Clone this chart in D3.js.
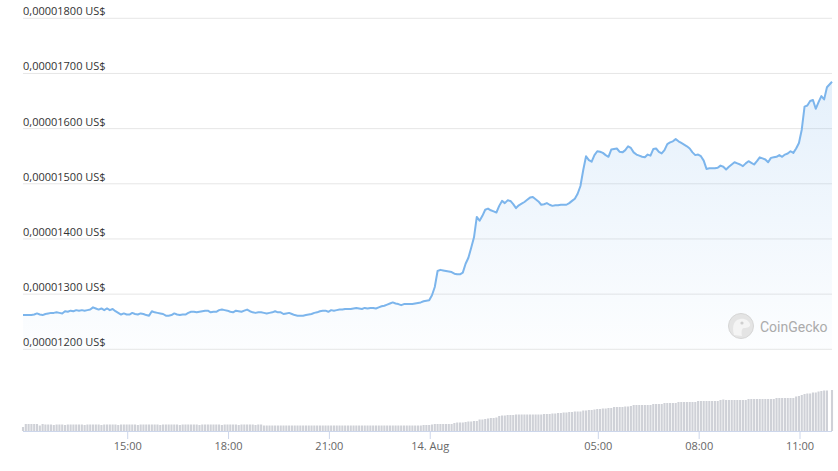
<!DOCTYPE html>
<html>
<head>
<meta charset="utf-8">
<script src="https://cdn.jsdelivr.net/npm/d3@7"></script>
<style>
  body { margin: 0; background: #fff; }
  svg { display: block; font-family: "Open Sans", "Noto Sans", sans-serif; }
</style>
</head>
<body>
<svg id="chart" width="838" height="471"></svg>
<script>
// price in units of 1e-8 US$, one point every 5 minutes (last point = live price)
var priceE8 = [
  1262,1262,1262,1262,1263,1265,1263,1262,1264,1265,
  1266,1266,1267,1266,1265,1269,1268,1270,1269,1271,
  1270,1271,1270,1271,1272,1276,1274,1272,1274,1271,
  1274,1271,1273,1269,1266,1263,1265,1263,1263,1266,
  1264,1263,1265,1264,1262,1261,1269,1267,1266,1265,
  1264,1261,1261,1262,1265,1263,1262,1263,1263,1266,
  1268,1268,1267,1268,1269,1270,1270,1267,1268,1268,
  1271,1272,1271,1270,1268,1267,1270,1269,1268,1270,
  1272,1269,1267,1266,1267,1267,1266,1265,1266,1267,
  1269,1267,1267,1264,1265,1266,1264,1262,1261,1261,
  1261,1262,1263,1264,1266,1267,1269,1270,1270,1268,
  1271,1270,1271,1272,1272,1273,1273,1273,1274,1275,
  1274,1273,1275,1274,1275,1275,1274,1276,1278,1279,
  1281,1283,1285,1283,1282,1280,1282,1282,1282,1282,
  1283,1284,1285,1287,1288,1289,1298,1313,1342,1344,
  1343,1342,1341,1340,1337,1336,1336,1339,1355,1366,
  1384,1403,1440,1433,1442,1453,1455,1452,1450,1448,
  1460,1469,1465,1470,1469,1463,1456,1461,1464,1467,
  1471,1475,1476,1472,1468,1462,1463,1465,1462,1460,
  1461,1461,1462,1462,1462,1465,1469,1473,1482,1496,
  1525,1550,1543,1540,1552,1559,1558,1556,1552,1549,
  1562,1563,1564,1558,1557,1561,1568,1565,1557,1553,
  1551,1549,1548,1553,1551,1563,1564,1558,1555,1561,
  1572,1575,1577,1581,1577,1574,1571,1568,1564,1557,
  1552,1553,1550,1542,1527,1528,1528,1528,1529,1533,
  1531,1526,1531,1535,1539,1537,1535,1532,1537,1541,
  1538,1535,1541,1548,1546,1544,1539,1547,1548,1549,
  1552,1549,1553,1555,1559,1556,1564,1574,1598,1640,
  1642,1650,1652,1636,1648,1659,1653,1675,1685
];

// volume, same timestamps (arbitrary units)
var volume = [
  8,14,14,14,14,14,11,14,13,13,
  13,12,13,13,13,12,13,13,13,13,
  13,13,12,13,13,13,13,13,12,13,
  13,13,13,13,12,13,13,13,13,13,
  13,12,13,13,13,13,13,13,13,12,
  13,13,13,13,13,13,12,13,13,13,
  13,13,13,12,13,13,13,13,13,13,
  13,12,13,13,13,13,13,12,13,13,
  13,13,13,12,13,13,11,11,11,11,
  11,11,11,11,11,11,11,11,11,11,
  11,11,11,11,11,11,11,11,11,11,
  11,11,11,11,11,11,11,11,11,11,
  11,11,11,11,11,11,11,11,11,11,
  11,11,11,11,11,11,11,11,11,11,
  11,11,11,12,12,12,13,14,14,14,
  14,14,14,14,16,17,17,17,18,19,
  19,20,20,23,23,24,25,26,26,27,
  30,31,31,32,32,32,33,33,33,33,
  33,33,33,33,33,33,34,34,34,35,
  35,36,36,37,37,38,38,39,39,39,
  41,41,42,42,43,44,44,45,45,46,
  46,48,48,48,48,49,49,50,52,52,
  52,52,52,52,52,54,54,54,54,56,
  56,56,56,56,58,58,58,58,58,58,
  58,60,60,60,60,60,60,60,60,62,
  63,62,62,62,62,62,62,62,62,64,
  64,64,64,64,64,64,64,64,64,66,
  66,66,66,66,66,66,69,70,72,74,
  75,75,77,77,79,80,81,81,82
];

var yTickValues = [1200e-8, 1300e-8, 1400e-8, 1500e-8, 1600e-8, 1700e-8, 1800e-8];
var xTickTimes = [
  Date.UTC(2023, 7, 13, 15), Date.UTC(2023, 7, 13, 18), Date.UTC(2023, 7, 13, 21),
  Date.UTC(2023, 7, 14, 0), Date.UTC(2023, 7, 14, 5), Date.UTC(2023, 7, 14, 8),
  Date.UTC(2023, 7, 14, 11)
];
var xTickLabels = ["15:00", "18:00", "21:00", "14. Aug", "05:00", "08:00", "11:00"];

var startTime = Date.UTC(2023, 7, 13, 11, 54);
var endTime = Date.UTC(2023, 7, 14, 11, 58);

var data = priceE8.map(function(p, i) {
    var t = i < priceE8.length - 1 ? startTime + i * 5 * 60000 : endTime;
    return {t: new Date(t), price: p * 1e-8, vol: volume[i]};
});

var locale = d3.formatLocale({decimal: ",", thousands: ".", grouping: [3], currency: ["", " US$"]});
var fmtPrice = locale.format("$.8f");

var svg = d3.select("#chart");

var x = d3.scaleUtc().domain([new Date(startTime), new Date(endTime)]).range([23, 832]);
var y = d3.scaleLinear().domain([1200e-8, 1800e-8]).range([349.3, 18.3]);
var yVol = d3.scaleLinear().domain([0, 100]).range([431, 381]);

// grid + y labels
var grid = svg.append("g");
grid.selectAll("line").data(yTickValues).enter().append("line")
    .attr("x1", 23).attr("x2", 832)
    .attr("y1", function(d) { return y(d); })
    .attr("y2", function(d) { return y(d); })
    .attr("stroke", "#e6e6e6").attr("stroke-width", 1);
grid.selectAll("text").data(yTickValues).enter().append("text")
    .attr("x", 23)
    .attr("y", function(d) { return y(d) - 3; })
    .attr("font-size", 11)
    .attr("fill", "#333")
    .text(function(d) { return fmtPrice(d); });

// area gradient
var grad = svg.append("defs").append("linearGradient")
    .attr("id", "areaGrad")
    .attr("x1", "0%").attr("y1", "0%").attr("x2", "0%").attr("y2", "100%");
grad.append("stop").attr("offset", "0%").attr("stop-color", "#7cb5ec").attr("stop-opacity", 0.2);
grad.append("stop").attr("offset", "100%").attr("stop-color", "#7cb5ec").attr("stop-opacity", 0.02);

var area = d3.area()
    .x(function(d) { return x(d.t); })
    .y0(y(1200e-8))
    .y1(function(d) { return y(d.price); });

svg.append("path").datum(data)
    .attr("d", area)
    .attr("fill", "url(#areaGrad)");

// watermark
var wm = svg.append("g").attr("transform", "translate(741,326)");
wm.append("circle").attr("r", 12.5).attr("fill", "#e4e4e4").attr("stroke", "#d6d6d6");
wm.append("path")
    .attr("d", "M-7,9 C-9,2 -8,-6 -1,-7 C4,-8 8,-5 9,-2 C10,1 6,2 3,2 C1,2 0,5 1,10 Z")
    .attr("fill", "#f4f4f4");
wm.append("circle").attr("cx", 1).attr("cy", -3).attr("r", 1.6).attr("fill", "#cfcfcf");
svg.append("text")
    .attr("x", 760).attr("y", 332)
    .attr("font-family", "Roboto, sans-serif")
    .attr("font-size", 14)
    .attr("fill", "#ababab")
    .text("CoinGecko");

var line = d3.line()
    .x(function(d) { return x(d.t); })
    .y(function(d) { return y(d.price); });

svg.append("path").datum(data)
    .attr("d", line)
    .attr("fill", "none")
    .attr("stroke", "#7cb5ec")
    .attr("stroke-width", 2)
    .attr("stroke-linejoin", "round");

// volume bars
svg.append("g").selectAll("rect").data(data).enter().append("rect")
    .attr("x", function(d) { return x(d.t) - 1.05; })
    .attr("width", 2.1)
    .attr("y", function(d) { return yVol(d.vol); })
    .attr("height", function(d) { return yVol(0) - yVol(d.vol); })
    .attr("fill", "#cfd1d7");

// x axis
var xAxis = d3.axisBottom(x)
    .tickValues(xTickTimes.map(function(t) { return new Date(t); }))
    .tickFormat(function(d, i) { return xTickLabels[i]; })
    .tickSizeOuter(0)
    .tickSize(8)
    .tickPadding(3);

var gx = svg.append("g")
    .attr("transform", "translate(0,431)")
    .call(xAxis);
gx.select(".domain").remove();
gx.append("line")
    .attr("x1", 23).attr("x2", 832)
    .attr("y1", 0.5).attr("y2", 0.5)
    .attr("stroke", "#ccd6eb");
gx.selectAll(".tick line").attr("stroke", "#ccd6eb");
gx.selectAll(".tick text")
    .attr("fill", "#666")
    .attr("font-size", 11)
    .attr("font-family", "Open Sans, Noto Sans, sans-serif");
</script>
</body>
</html>
